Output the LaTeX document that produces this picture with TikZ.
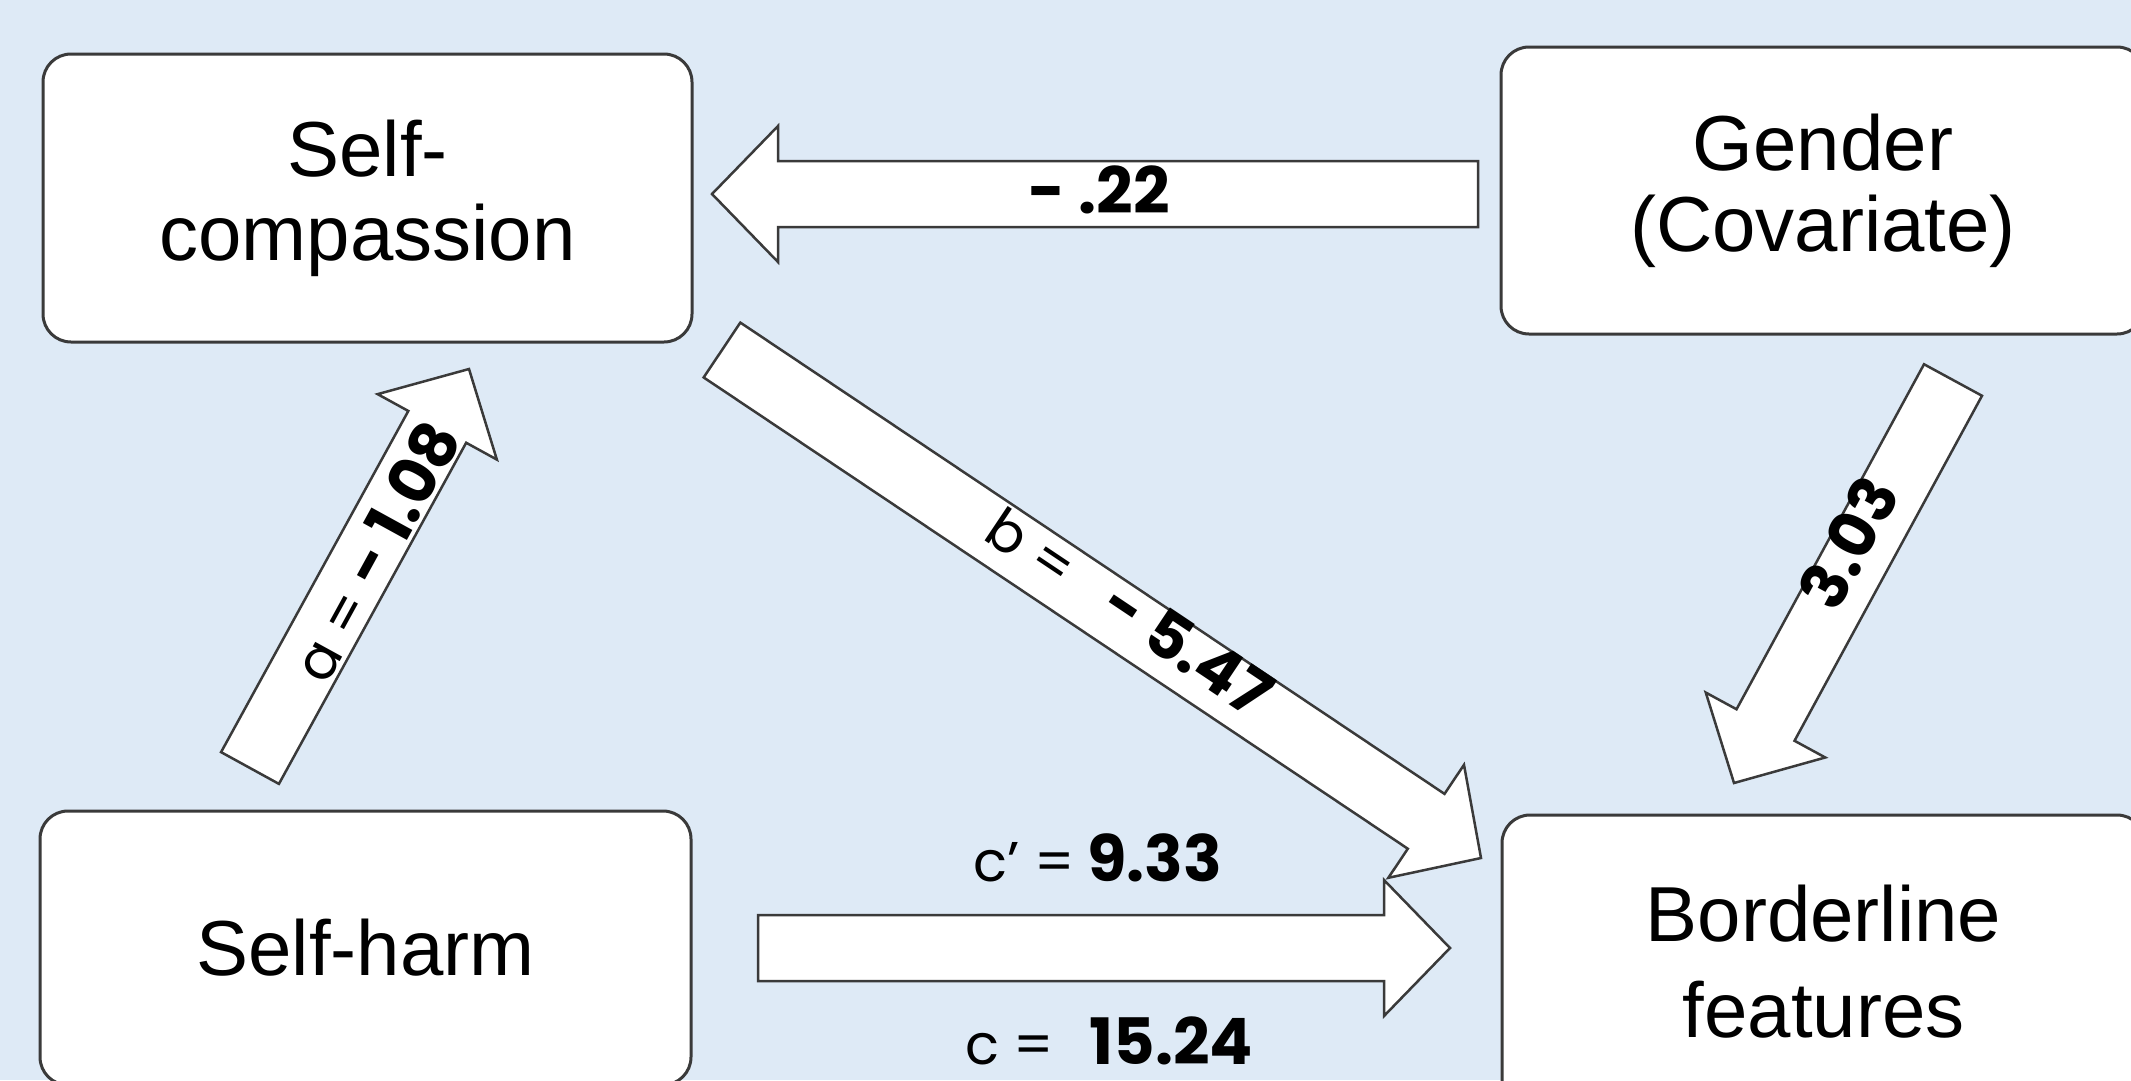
\documentclass[tikz,border=0pt]{standalone}
\usepackage{fontspec}
\setmainfont{Liberation Sans}
\newfontfamily\labfont{Poppins}
\usetikzlibrary{calc}
\definecolor{bg}{HTML}{DEEAF6}
\definecolor{edge}{HTML}{3A3A3A}
\tikzset{
  box/.style={draw=edge, line width=3pt, fill=white, rounded corners=28pt,
    align=center, inner sep=0pt},
  blockarrow/.style={draw=edge, line width=2.5pt, fill=white, line join=miter},
  lbl/.style={font=\labfont\fontsize{56}{60}\selectfont, inner sep=0pt},
}
\newcommand\numb[1]{{\fontsize{64}{68}\selectfont\bfseries #1}}
\newcommand\blockarr[3]{%
  \coordinate (#3) at ($(#2)!66pt!(#1)$);
  \draw[blockarrow] ($(#1)!33pt!90:(#2)$) -- ($(#3)!33pt!90:(#2)$)
    -- ($(#3)!68pt!90:(#2)$) -- (#2) -- ($(#3)!68pt!-90:(#2)$)
    -- ($(#3)!33pt!-90:(#2)$) -- ($(#1)!33pt!-90:(#2)$) -- cycle;
}
\begin{document}
\begin{tikzpicture}[x=1pt, y=-1pt]
\fill[bg] (0,0) rectangle (2131,1080);
\useasboundingbox (0,0) rectangle (2131,1080);

% boxes
\node[box, minimum width=649pt, minimum height=288pt, font=\fontsize{78}{84}\selectfont]
  (sc) at (367.5,198) {Self-\\compassion};
\node[box, minimum width=644pt, minimum height=287pt, font=\fontsize{78}{81}\selectfont]
  (gen) at (1823,190.5) {Gender\\(Covariate)};
\node[box, minimum width=651pt, minimum height=274pt, font=\fontsize{78}{84}\selectfont]
  (sh) at (365.5,948) {Self-harm};
\node[box, minimum width=643pt, minimum height=294pt, font=\fontsize{78}{96}\selectfont]
  (bf) at (1823.5,962) {Borderline\\features};

% arrow end points
\coordinate (t1) at (1478,194); \coordinate (h1) at (712,194);
\coordinate (t2) at (250,768);  \coordinate (h2) at (469,369);
\coordinate (t3) at (722,350);  \coordinate (h3) at (1481,858);
\coordinate (t4) at (1953,380); \coordinate (h4) at (1734,783);
\coordinate (t5) at (758,948);  \coordinate (h5) at (1450,948);

\blockarr{t1}{h1}{b1}
\blockarr{t2}{h2}{b2}
\blockarr{t3}{h3}{b3}
\blockarr{t4}{h4}{b4}
\blockarr{t5}{h5}{b5}

% labels
\node[lbl] (l22) at (1099,190) {\numb{- .22}};
\path (t2) -- (h2) node[lbl, pos=0.55, sloped, yshift=-5pt] (la) {a = \numb{- 1.08}};
\path (t3) -- (h3) node[lbl, pos=0.53, sloped, yshift=11pt] (lb) {b =\hspace{45pt}\numb{- 5.47}};
\path (h4) -- (t4) node[lbl, pos=0.58, sloped, yshift=14pt] (lg) {\numb{3.03}};
\node[lbl] (lc1) at (1098,858) {c’ =\hspace{12pt}\numb{9.33}};
\node[lbl] (lc2) at (1109,1041) {c =\hspace{35pt}\numb{15.24}};
\end{tikzpicture}
\end{document}
